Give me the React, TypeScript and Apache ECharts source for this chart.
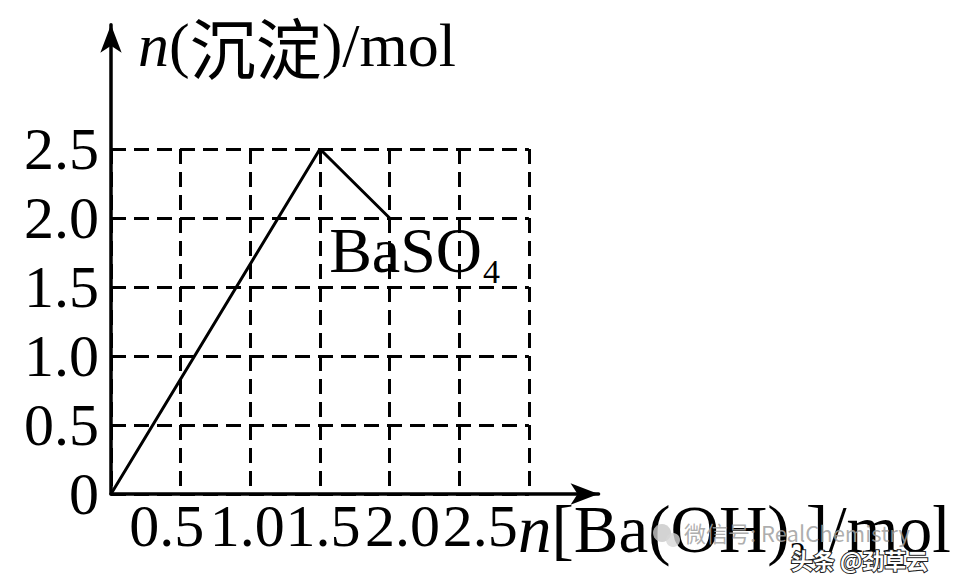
import { useEffect, useRef } from 'react';
import * as echarts from 'echarts';

// n[Ba(OH)2] added (mol) vs n(precipitate) (mol)
const doseBaOH2 = [0, 1.5, 2.0];
const molPrecipitate = [0, 2.5, 2.0];
const xTickLabels = ['0.5', '1.0', '1.5', '2.0', '2.5'];
const yTickLabels = ['0', '0.5', '1.0', '1.5', '2.0', '2.5'];
const curveName = 'BaSO';
const curveSub = '4';

const SERIF = 'Liberation Serif';
const CJK = 'Noto Sans CJK SC';

// pixel layout of the axes
const ORIGIN_X = 111;
const ORIGIN_Y = 494;
const PX_X = 139.3;
const PX_Y = 138;
const AXIS_MAX_X = 3.5;
const AXIS_MAX_Y = 3.4;
const GRID_MAX_X = 3.0;
const GRID_MAX_Y = 2.5;
// the printed x labels sit a little off their ticks (px, + = right)
const X_LABEL_SHIFT = [-14, -3, 3, 13, 21];

const App = () => {
    const chartRef = useRef<HTMLDivElement>(null);

    useEffect(() => {
        if (!chartRef.current) return;
        const chart = echarts.init(chartRef.current, null, { renderer: 'svg' });

        const data = doseBaOH2.map((x, i) => {
            if (i !== doseBaOH2.length - 1) return [x, molPrecipitate[i]];
            return {
                value: [x, molPrecipitate[i]],
                label: {
                    show: true,
                    position: 'bottom',
                    distance: 0,
                    offset: [25, 0],
                    formatter: `{b|${curveName}}{s|${curveSub}}`,
                    rich: {
                        b: { fontFamily: SERIF, fontSize: 64, lineHeight: 64, color: '#000' },
                        s: { fontFamily: SERIF, fontSize: 34, lineHeight: 34, color: '#000', verticalAlign: 'top', padding: [36, 0, 0, 1] },
                    },
                },
            };
        });

        const xLabelRich: Record<string, any> = {};
        X_LABEL_SHIFT.forEach((d, i) => {
            xLabelRich['p' + i] = {
                fontFamily: SERIF,
                fontSize: 60,
                color: '#000',
                padding: d >= 0 ? [0, 0, 0, 2 * d] : [0, -2 * d, 0, 0],
            };
        });

        const plain = (size: number, family = SERIF, italic = false, lineHeight = 68) => ({
            fontFamily: family,
            fontStyle: italic ? 'italic' : 'normal',
            fontWeight: 'normal',
            fontSize: size,
            lineHeight,
            color: '#000',
        });

        const option: any = {
            animation: false,
            backgroundColor: '#fff',
            title: [
                {
                    left: 133,
                    top: 8,
                    text: '{i|n}{t|(}{c|沉淀}{t|)/mol}',
                    textStyle: {
                        fontWeight: 'normal',
                        rich: {
                            i: plain(62, SERIF, true, 64),
                            t: plain(62, SERIF, false, 64),
                            c: plain(66, CJK, false, 64),
                        },
                    },
                },
                {
                    left: 513,
                    top: 490,
                    text: '{i|n}{t|[Ba(OH)}{s|2}{t|]/mol}',
                    textStyle: {
                        fontWeight: 'normal',
                        rich: {
                            i: plain(67, SERIF, true),
                            t: plain(67),
                            s: { fontFamily: SERIF, fontWeight: 'normal', fontSize: 32, lineHeight: 32, color: '#000', verticalAlign: 'top', padding: [42, 0, 0, 0] },
                        },
                    },
                },
            ],
            grid: [
                {
                    left: ORIGIN_X,
                    top: ORIGIN_Y - AXIS_MAX_Y * PX_Y,
                    width: AXIS_MAX_X * PX_X,
                    height: AXIS_MAX_Y * PX_Y,
                },
                {
                    left: ORIGIN_X,
                    top: ORIGIN_Y - GRID_MAX_Y * PX_Y,
                    width: GRID_MAX_X * PX_X,
                    height: GRID_MAX_Y * PX_Y,
                },
            ],
            xAxis: [
                {
                    type: 'value',
                    gridIndex: 0,
                    min: 0,
                    max: AXIS_MAX_X,
                    interval: 0.5,
                    axisLine: {
                        show: true,
                        symbol: ['none', 'arrow'],
                        symbolSize: [16, 28],
                        lineStyle: { color: '#000', width: 3.5 },
                    },
                    axisTick: { show: false },
                    splitLine: { show: false },
                    axisLabel: {
                        margin: 2,
                        fontFamily: SERIF,
                        fontSize: 60,
                        color: '#000',
                        showMaxLabel: false,
                        interval: 0,
                        hideOverlap: false,
                        rich: xLabelRich,
                        formatter: (v: number) => {
                            const s = v.toFixed(1);
                            const i = xTickLabels.indexOf(s);
                            return i < 0 ? '' : `{p${i}|${s}}`;
                        },
                    },
                },
                {
                    type: 'value',
                    gridIndex: 1,
                    min: 0,
                    max: GRID_MAX_X,
                    interval: 0.5,
                    axisLine: { show: false },
                    axisTick: { show: false },
                    axisLabel: { show: false },
                    splitLine: { show: true, lineStyle: { color: '#000', width: 3, type: [15, 8] } },
                },
            ],
            yAxis: [
                {
                    type: 'value',
                    gridIndex: 0,
                    min: 0,
                    max: AXIS_MAX_Y,
                    interval: 0.5,
                    axisLine: {
                        show: true,
                        symbol: ['none', 'arrow'],
                        symbolSize: [16, 28],
                        lineStyle: { color: '#000', width: 3.5 },
                    },
                    axisTick: { show: false },
                    splitLine: { show: false },
                    axisLabel: {
                        margin: 12,
                        fontFamily: SERIF,
                        fontSize: 60,
                        color: '#000',
                        showMaxLabel: false,
                        formatter: (v: number) => {
                            const s = v === 0 ? '0' : v.toFixed(1);
                            return yTickLabels.includes(s) ? s : '';
                        },
                    },
                },
                {
                    type: 'value',
                    gridIndex: 1,
                    min: 0,
                    max: GRID_MAX_Y,
                    interval: 0.5,
                    axisLine: { show: false },
                    axisTick: { show: false },
                    axisLabel: { show: false },
                    splitLine: { show: true, lineStyle: { color: '#000', width: 3, type: [15, 8] } },
                },
            ],
            series: [
                {
                    type: 'line',
                    xAxisIndex: 0,
                    yAxisIndex: 0,
                    data,
                    showSymbol: true,
                    symbol: 'circle',
                    symbolSize: 0,
                    itemStyle: { color: '#000' },
                    lineStyle: { color: '#000', width: 3 },
                    z: 5,
                },
            ],
            graphic: [
                { type: 'circle', shape: { cx: 662, cy: 533, r: 9 }, style: { fill: 'rgba(200,200,200,0.8)' }, z: 20 },
                { type: 'circle', shape: { cx: 673, cy: 540, r: 7 }, style: { fill: 'rgba(215,215,215,0.8)' }, z: 20 },
                {
                    type: 'text',
                    left: 684,
                    top: 521,
                    z: 20,
                    style: {
                        text: '微信号: RealChemistry',
                        fontFamily: CJK,
                        fontSize: 22,
                        fill: 'rgba(160,160,160,0.85)',
                    },
                },
                {
                    type: 'text',
                    left: 790,
                    top: 547,
                    z: 20,
                    style: {
                        text: '头条 @劲草云',
                        fontFamily: CJK,
                        fontSize: 22,
                        fontWeight: 'bold',
                        fill: '#fff',
                        stroke: '#222',
                        lineWidth: 2,
                    },
                },
            ],
        };

        chart.setOption(option);
        return () => {
            chart.dispose();
        };
    }, []);

    return (
        <div
            ref={chartRef}
            style={{ position: 'absolute', left: 0, top: 0, width: 962, height: 584, background: '#fff' }}
        />
    );
};

export default App;
